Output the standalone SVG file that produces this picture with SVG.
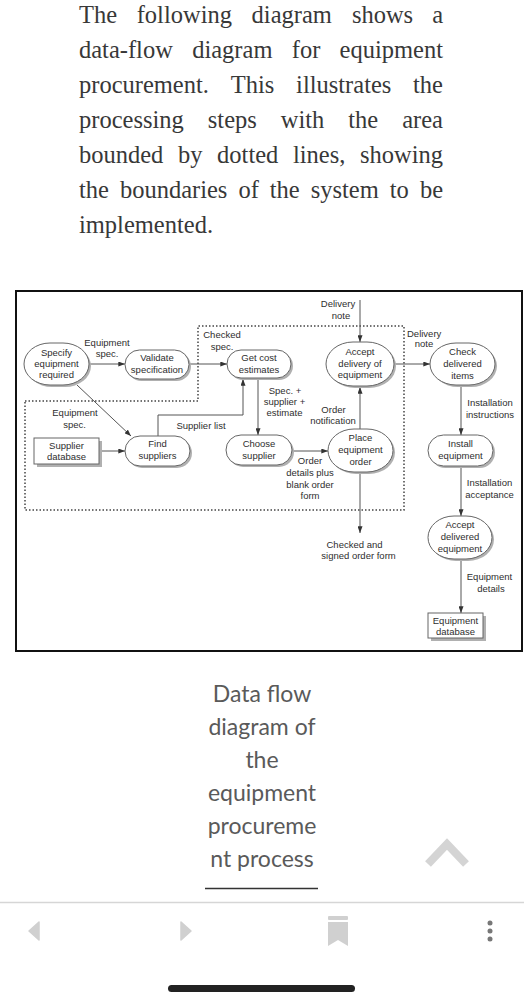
<svg xmlns="http://www.w3.org/2000/svg" width="524" height="996" viewBox="0 0 524 996">
<style>
.para{font-family:"Liberation Serif","Times New Roman",serif;font-size:24.5px;fill:#383838}
.cap{font-family:Lato,"Open Sans",sans-serif;font-size:23px;fill:#5a5a5a;text-anchor:middle}
.t{font-family:"Liberation Sans",Arial,sans-serif;font-size:9.5px;fill:#2e2e2e;text-anchor:middle}
.nd{fill:#fff;stroke:#666;stroke-width:1}
.sh{fill:#b0b0b0}
.ln{fill:none;stroke:#555;stroke-width:1}
.arr{marker-end:url(#ah)}
.bnd{fill:none;stroke:#444;stroke-width:1.5;stroke-dasharray:1.5 2}
</style>
<defs>
<marker id="ah" viewBox="0 0 8 6" refX="8" refY="3" markerWidth="7" markerHeight="5" orient="auto" markerUnits="userSpaceOnUse"><path d="M0,0 L8,3 L0,6 z" fill="#333"/></marker>
</defs>
<rect width="524" height="996" fill="#fff"/>

<g id="paragraph" class="para">
<text y="22.7"><tspan x="79">The</tspan><tspan x="136.7">following</tspan><tspan x="251.6">diagram</tspan><tspan x="351.9">shows</tspan><tspan x="443" text-anchor="end">a</tspan></text>
<text y="57.8"><tspan x="79">data-flow</tspan><tspan x="192.2">diagram</tspan><tspan x="291.8">for</tspan><tspan x="443" text-anchor="end">equipment</tspan></text>
<text y="92.9"><tspan x="79">procurement.</tspan><tspan x="230.7">This</tspan><tspan x="296.1">illustrates</tspan><tspan x="443" text-anchor="end">the</tspan></text>
<text y="128"><tspan x="79">processing</tspan><tspan x="207.8">steps</tspan><tspan x="280.8">with</tspan><tspan x="348.3">the</tspan><tspan x="443" text-anchor="end">area</tspan></text>
<text y="163.1"><tspan x="79">bounded</tspan><tspan x="178">by</tspan><tspan x="217.1">dotted</tspan><tspan x="293">lines,</tspan><tspan x="443" text-anchor="end">showing</tspan></text>
<text y="198.2"><tspan x="79">the</tspan><tspan x="119.9">boundaries</tspan><tspan x="238.4">of</tspan><tspan x="269.8">the</tspan><tspan x="310.7">system</tspan><tspan x="389.8">to</tspan><tspan x="443" text-anchor="end">be</tspan></text>
<text y="233.3" x="79">implemented.</text>
</g>

<rect id="frame" x="16" y="291" width="506" height="360" fill="none" stroke="#111" stroke-width="2"/>
<path id="boundary" class="bnd" d="M25,401 H198 V326 H404 V510 H25 Z"/>

<g id="connectors">
<path class="ln arr" d="M89,364 H125"/>
<path class="ln arr" d="M189,364 H227"/>
<path class="ln arr" d="M77,385 L131,436"/>
<path class="ln arr" d="M99,451 H125"/>
<path class="ln arr" d="M158,436 V415 H243 V379"/>
<path class="ln arr" d="M258,378 V435"/>
<path class="ln arr" d="M292,451 H328"/>
<path class="ln arr" d="M360,429 V387"/>
<path class="ln arr" d="M360,472 V533"/>
<path class="ln arr" d="M360,300 V342"/>
<path class="ln arr" d="M394,364 H430"/>
<path class="ln arr" d="M461,385 V435"/>
<path class="ln arr" d="M461,466 V516"/>
<path class="ln arr" d="M461,559 V613"/>
</g>

<g id="labels" class="t">
<text x="107" y="345.5">Equipment</text><text x="107" y="356.5">spec.</text>
<text x="222" y="337.5">Checked</text><text x="222" y="349.5">spec.</text>
<text x="338" y="307">Delivery</text><text x="341" y="319">note</text>
<text x="407" y="336.5" text-anchor="start">Delivery</text><text x="424" y="346.5">note</text>
<text x="285" y="393.5">Spec. +</text><text x="284.5" y="404.5">supplier +</text><text x="284.5" y="415.5">estimate</text>
<text x="333.5" y="412.5">Order</text><text x="333" y="424">notification</text>
<text x="201" y="428.5">Supplier list</text>
<text x="75" y="416">Equipment</text><text x="74.5" y="427.5">spec.</text>
<text x="310" y="464">Order</text><text x="310" y="476">details plus</text><text x="310" y="487.5">blank order</text><text x="310" y="499">form</text>
<text x="490" y="406">Installation</text><text x="490" y="417.5">instructions</text>
<text x="489.5" y="485.5">Installation</text><text x="489.5" y="497.5">acceptance</text>
<text x="354.5" y="547.5">Checked and</text><text x="358.5" y="558.5">signed order form</text>
<text x="489.5" y="579.5">Equipment</text><text x="491" y="591.5">details</text>
</g>

<g id="n-specify">
<rect class="sh" x="26" y="345" width="65" height="42" rx="26" ry="21"/>
<rect class="nd" x="24" y="343" width="65" height="42" rx="26" ry="21"/>
<text class="t" x="56.5" y="356.3">Specify</text><text class="t" x="56.5" y="367.3">equipment</text><text class="t" x="56.5" y="378.3">required</text>
</g>
<g id="n-validate">
<rect class="sh" x="127" y="352" width="64" height="29" rx="14.5"/>
<rect class="nd" x="125" y="350" width="64" height="29" rx="14.5"/>
<text class="t" x="157" y="361.3">Validate</text><text class="t" x="157" y="373.3">specification</text>
</g>
<g id="n-getcost">
<rect class="sh" x="229" y="352" width="64" height="28" rx="14"/>
<rect class="nd" x="227" y="350" width="64" height="28" rx="14"/>
<text class="t" x="259" y="361.3">Get cost</text><text class="t" x="259" y="373.3">estimates</text>
</g>
<g id="n-acceptdelivery">
<rect class="sh" x="328" y="344" width="68" height="44" rx="27" ry="22"/>
<rect class="nd" x="326" y="342" width="68" height="44" rx="27" ry="22"/>
<text class="t" x="360" y="355.3">Accept</text><text class="t" x="360" y="366.8">delivery of</text><text class="t" x="360" y="378.3">equipment</text>
</g>
<g id="n-check">
<rect class="sh" x="432" y="345" width="65" height="42" rx="26" ry="21"/>
<rect class="nd" x="430" y="343" width="65" height="42" rx="26" ry="21"/>
<text class="t" x="462.5" y="355.3">Check</text><text class="t" x="462.5" y="367.3">delivered</text><text class="t" x="462.5" y="379.3">items</text>
</g>
<g id="n-supplierdb">
<rect class="sh" x="37" y="441" width="65" height="26"/>
<rect class="nd" x="34" y="438" width="65" height="26"/>
<text class="t" x="66.5" y="449.3">Supplier</text><text class="t" x="66.5" y="460.3">database</text>
</g>
<g id="n-find">
<rect class="sh" x="127" y="438" width="65" height="30" rx="15"/>
<rect class="nd" x="125" y="436" width="65" height="30" rx="15"/>
<text class="t" x="157.5" y="447.3">Find</text><text class="t" x="157.5" y="459.3">suppliers</text>
</g>
<g id="n-choose">
<rect class="sh" x="228" y="437" width="66" height="30" rx="15"/>
<rect class="nd" x="226" y="435" width="66" height="30" rx="15"/>
<text class="t" x="259" y="447.3">Choose</text><text class="t" x="259" y="459.3">supplier</text>
</g>
<g id="n-place">
<rect class="sh" x="330" y="431" width="65" height="43" rx="26" ry="21.5"/>
<rect class="nd" x="328" y="429" width="65" height="43" rx="26" ry="21.5"/>
<text class="t" x="360.5" y="441.3">Place</text><text class="t" x="360.5" y="453.3">equipment</text><text class="t" x="360.5" y="465.3">order</text>
</g>
<g id="n-install">
<rect class="sh" x="430" y="437" width="65" height="31" rx="15.5"/>
<rect class="nd" x="428" y="435" width="65" height="31" rx="15.5"/>
<text class="t" x="460.5" y="447.3">Install</text><text class="t" x="460.5" y="459.3">equipment</text>
</g>
<g id="n-acceptdelivered">
<rect class="sh" x="430" y="518" width="64" height="43" rx="26" ry="21.5"/>
<rect class="nd" x="428" y="516" width="64" height="43" rx="26" ry="21.5"/>
<text class="t" x="460" y="528.3">Accept</text><text class="t" x="460" y="540.3">delivered</text><text class="t" x="460" y="552.3">equipment</text>
</g>
<g id="n-equipdb">
<rect class="sh" x="431" y="616" width="55" height="25"/>
<rect class="nd" x="428" y="613" width="55" height="25"/>
<text class="t" x="455.5" y="624.3">Equipment</text><text class="t" x="455.5" y="635.3">database</text>
</g>

<g id="caption" class="cap">
<text x="262" y="702">Data flow</text>
<text x="262" y="735">diagram of</text>
<text x="262" y="768">the</text>
<text x="262" y="801">equipment</text>
<text x="262" y="834">procureme</text>
<text x="262" y="867">nt process</text>
</g>
<line x1="205" y1="888.5" x2="318" y2="888.5" stroke="#333" stroke-width="1.5"/>
<polyline points="428,864 447,844 466,864" fill="none" stroke="#d4d4d4" stroke-width="8"/>
<line x1="0" y1="902.5" x2="524" y2="902.5" stroke="#d6d6d6" stroke-width="1.5"/>

<g id="toolbar">
<path d="M39,922 L29,931 L39,940 Z" fill="#d0d0d0" stroke="#d0d0d0" stroke-width="1.5" stroke-linejoin="round"/>
<path d="M181,922 L191,931 L181,940 Z" fill="#d0d0d0" stroke="#d0d0d0" stroke-width="1.5" stroke-linejoin="round"/>
<rect x="328" y="916" width="20" height="4" rx="1" fill="#d0d0d0"/>
<path d="M328,922 H348 V946 L338,940 L328,946 Z" fill="#d0d0d0"/>
<circle cx="490" cy="923" r="2.5" fill="#777"/>
<circle cx="490" cy="931" r="2.5" fill="#777"/>
<circle cx="490" cy="939" r="2.5" fill="#777"/>
</g>
<rect x="168" y="985" width="187" height="7" rx="3.5" fill="#222"/>
</svg>
